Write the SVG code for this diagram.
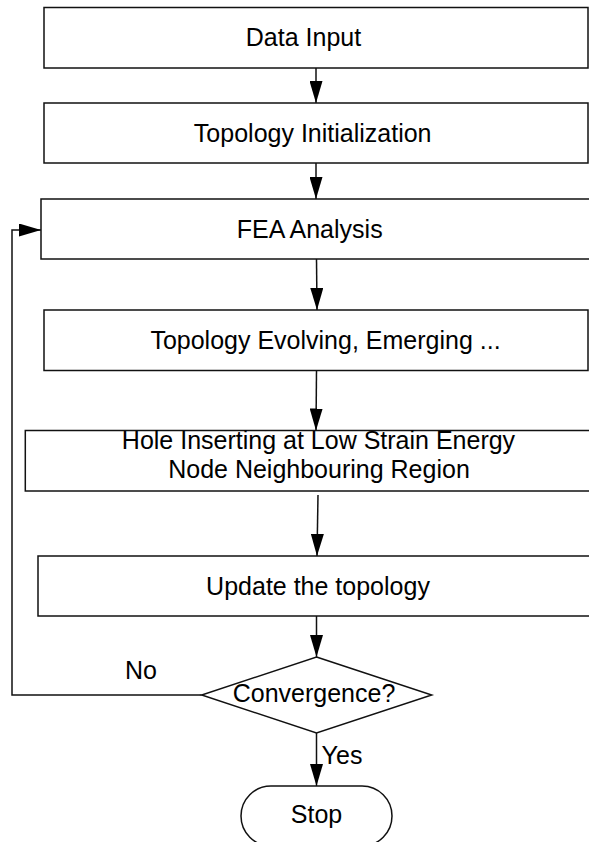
<svg xmlns="http://www.w3.org/2000/svg" width="589" height="842" viewBox="0 0 589 842">
<style>
.box{fill:#fff;stroke:#111;stroke-width:1.5}
.lbl{font-family:"Liberation Sans",Arial,sans-serif;font-size:25px;fill:#000;text-anchor:middle}
.con{fill:none;stroke:#111;stroke-width:1.5}
</style>
<defs>
<marker id="ah" markerUnits="userSpaceOnUse" markerWidth="22" markerHeight="13" refX="22" refY="6.5" orient="auto">
<path d="M0,0 L22,6.5 L0,13 Z" fill="#000"/>
</marker>
</defs>
<rect width="589" height="842" fill="#fff"/>
<g id="connectors">
<line class="con" x1="316" y1="68" x2="316" y2="103" marker-end="url(#ah)"/>
<line class="con" x1="316" y1="163" x2="316" y2="199" marker-end="url(#ah)"/>
<line class="con" x1="316.5" y1="259" x2="317" y2="310" marker-end="url(#ah)"/>
<line class="con" x1="316.5" y1="370" x2="316" y2="430.5" marker-end="url(#ah)"/>
<line class="con" x1="318" y1="495" x2="317" y2="556" marker-end="url(#ah)"/>
<line class="con" x1="316.5" y1="616" x2="316.5" y2="657" marker-end="url(#ah)"/>
<line class="con" x1="316.5" y1="733" x2="316.5" y2="786" marker-end="url(#ah)"/>
<polyline class="con" points="201.7,695 12,695 12,230 41,230" marker-end="url(#ah)"/>
<text class="lbl" x="141" y="679">No</text>
<text class="lbl" x="342" y="764">Yes</text>
</g>
<g id="data-input">
<rect class="box" x="44" y="7.5" width="544" height="60.5"/>
<text class="lbl" x="303.5" y="45.5">Data Input</text>
</g>
<g id="topology-init">
<rect class="box" x="44" y="103" width="544" height="60"/>
<text class="lbl" x="312.7" y="141.5">Topology Initialization</text>
</g>
<g id="fea">
<rect class="box" x="41" y="199" width="560" height="60"/>
<text class="lbl" x="309.7" y="238">FEA Analysis</text>
</g>
<g id="topology-evolving">
<rect class="box" x="44" y="310" width="544" height="60.5"/>
<text class="lbl" x="325.5" y="348.5">Topology Evolving, Emerging ...</text>
</g>
<g id="hole-inserting">
<rect class="box" x="25.3" y="430.5" width="580" height="60.5"/>
<text class="lbl" x="318.5" y="449">Hole Inserting at Low Strain Energy</text>
<text class="lbl" x="319" y="477.5">Node Neighbouring Region</text>
</g>
<g id="update">
<rect class="box" x="38" y="556" width="570" height="60"/>
<text class="lbl" x="318" y="595">Update the topology</text>
</g>
<g id="convergence">
<polygon class="box" points="316.5,657 431.7,695 316.5,733 201.7,695"/>
<text class="lbl" x="314" y="702">Convergence?</text>
</g>
<g id="stop">
<rect class="box" x="241" y="786" width="151" height="60" rx="30" ry="30"/>
<text class="lbl" x="316.5" y="823">Stop</text>
</g>
</svg>
